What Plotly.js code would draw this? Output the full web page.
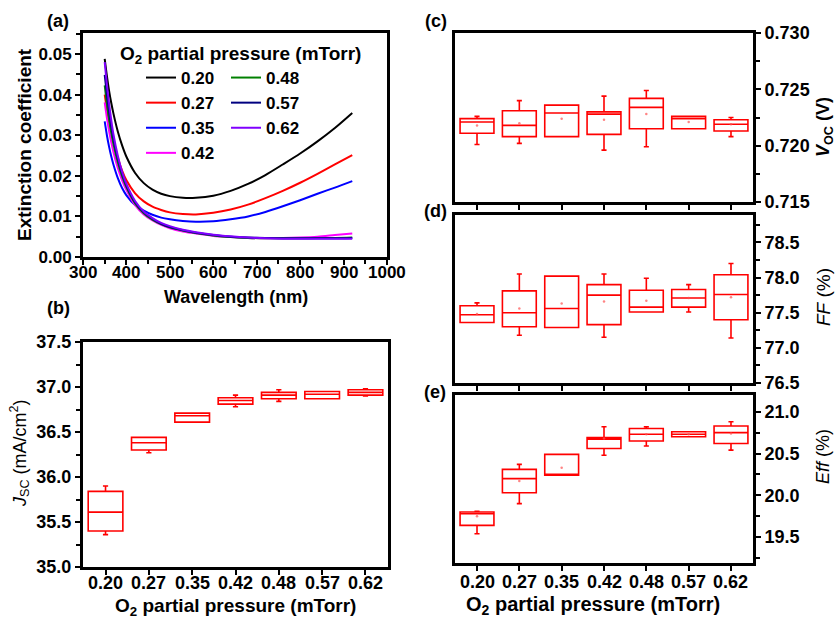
<!DOCTYPE html>
<html>
<head>
<meta charset="utf-8">
<script src="https://cdn.plot.ly/plotly-3.0.1.min.js"></script>
<style>html,body{margin:0;padding:0;background:#fff;}#chart{width:836px;height:619px;}</style>
</head>
<body>
<div id="chart"></div>
<script>
// ---------- Panel (a): extinction coefficient ----------
const wavelength = [350, 355, 360, 365, 370, 380, 390, 400, 420, 440, 460, 480, 500, 530, 560, 600, 640, 680, 720, 760, 800, 840, 880, 920];
const wlTicks = [300, 400, 500, 600, 700, 800, 900, 1000];
const k020 = [0.0488, 0.0446, 0.0410, 0.0380, 0.0354, 0.0310, 0.0275, 0.0247, 0.0207, 0.0182, 0.0166, 0.0156, 0.0150, 0.0146, 0.0146, 0.0151, 0.0163, 0.0180, 0.0202, 0.0228, 0.0255, 0.0285, 0.0318, 0.0355];
const k027 = [0.0400, 0.0365, 0.0335, 0.0308, 0.0285, 0.0245, 0.0213, 0.0189, 0.0157, 0.0137, 0.0124, 0.0116, 0.0110, 0.0106, 0.0105, 0.0109, 0.0117, 0.0129, 0.0145, 0.0163, 0.0183, 0.0205, 0.0228, 0.0251];
const k035 = [0.0334, 0.0300, 0.0272, 0.0248, 0.0228, 0.0195, 0.0170, 0.0152, 0.0128, 0.0114, 0.0104, 0.0097, 0.0093, 0.0089, 0.0087, 0.0088, 0.0093, 0.0100, 0.0111, 0.0125, 0.0140, 0.0156, 0.0171, 0.0187];
const k042 = [0.0381, 0.0343, 0.0311, 0.0283, 0.0259, 0.0220, 0.0189, 0.0165, 0.0128, 0.0105, 0.0090, 0.0079, 0.0071, 0.0063, 0.0058, 0.0052, 0.0049, 0.0047, 0.0046, 0.0047, 0.0048, 0.0050, 0.0054, 0.0058];
const k048 = [0.0423, 0.0378, 0.0340, 0.0307, 0.0279, 0.0234, 0.0199, 0.0172, 0.0132, 0.0108, 0.0092, 0.0081, 0.0073, 0.0065, 0.0059, 0.0053, 0.0049, 0.0047, 0.0046, 0.0046, 0.0046, 0.0047, 0.0047, 0.0048];
const k057 = [0.0449, 0.0400, 0.0358, 0.0322, 0.0291, 0.0242, 0.0205, 0.0176, 0.0135, 0.0110, 0.0094, 0.0082, 0.0074, 0.0066, 0.0060, 0.0054, 0.0050, 0.0048, 0.0047, 0.0046, 0.0046, 0.0046, 0.0046, 0.0047];
const k062 = [0.0480, 0.0425, 0.0378, 0.0338, 0.0303, 0.0250, 0.0210, 0.0180, 0.0138, 0.0112, 0.0096, 0.0084, 0.0076, 0.0067, 0.0061, 0.0055, 0.0051, 0.0048, 0.0046, 0.0045, 0.0045, 0.0045, 0.0045, 0.0045];

// ---------- Box panels ----------
const pressures = ['0.20', '0.27', '0.35', '0.42', '0.48', '0.57', '0.62'];

const jscQ1  = [35.40, 36.30, 36.61, 36.81, 36.87, 36.87, 36.91];
const jscMed = [35.61, 36.38, 36.68, 36.85, 36.91, 36.92, 36.94];
const jscQ3  = [35.84, 36.44, 36.71, 36.88, 36.94, 36.95, 36.97];
const jscLo  = [35.36, 36.27, 36.61, 36.78, 36.84, 36.87, 36.90];
const jscHi  = [35.90, 36.44, 36.71, 36.91, 36.97, 36.95, 36.98];

const vocQ1   = [0.7211, 0.7208, 0.7208, 0.7210, 0.7215, 0.7215, 0.7213];
const vocMed  = [0.7221, 0.7218, 0.7229, 0.7228, 0.7234, 0.7224, 0.7219];
const vocQ3   = [0.7224, 0.7231, 0.7236, 0.7230, 0.7242, 0.7226, 0.7223];
const vocLo   = [0.7201, 0.7202, 0.7208, 0.7196, 0.7199, 0.7215, 0.7208];
const vocHi   = [0.7226, 0.7240, 0.7236, 0.7244, 0.7249, 0.7226, 0.7225];
const vocMean = [0.7218, 0.7220, 0.7224, 0.7223, 0.7228, 0.7221, 0.7219];

const ffQ1   = [77.36, 77.30, 77.29, 77.33, 77.51, 77.58, 77.40];
const ffMed  = [77.47, 77.50, 77.56, 77.75, 77.58, 77.71, 77.76];
const ffQ3   = [77.60, 77.81, 78.02, 77.90, 77.82, 77.83, 78.04];
const ffLo   = [77.36, 77.18, 77.29, 77.15, 77.51, 77.51, 77.14];
const ffHi   = [77.64, 78.05, 78.02, 78.05, 77.99, 77.90, 78.20];
const ffMean = [77.48, 77.56, 77.63, 77.66, 77.67, 77.71, 77.72];

const effQ1   = [19.64, 20.03, 20.24, 20.56, 20.65, 20.70, 20.62];
const effMed  = [19.78, 20.20, 20.25, 20.67, 20.73, 20.73, 20.75];
const effQ3   = [19.80, 20.31, 20.49, 20.69, 20.80, 20.76, 20.83];
const effLo   = [19.54, 19.90, 20.24, 20.48, 20.59, 20.70, 20.54];
const effHi   = [19.81, 20.37, 20.49, 20.82, 20.82, 20.76, 20.88];
const effMean = [19.75, 20.17, 20.33, 20.68, 20.73, 20.73, 20.74];

// ---------- Build traces ----------
const W = 836, H = 619;
const px = v => v / W;
const py = v => 1 - v / H;

const lineSeries = [
  {name: '0.20', y: k020, color: '#000000', legend: 'legend'},
  {name: '0.27', y: k027, color: '#ff0000', legend: 'legend'},
  {name: '0.35', y: k035, color: '#0000ff', legend: 'legend'},
  {name: '0.42', y: k042, color: '#ff00ff', legend: 'legend'},
  {name: '0.48', y: k048, color: '#008000', legend: 'legend2'},
  {name: '0.57', y: k057, color: '#000080', legend: 'legend2'},
  {name: '0.62', y: k062, color: '#8000ff', legend: 'legend2'}
];

const traces = lineSeries.map((s, i) => ({
  type: 'scatter', mode: 'lines', x: wavelength, y: s.y, name: s.name,
  line: {color: s.color, width: 2, shape: 'spline', smoothing: 0.8},
  xaxis: 'x', yaxis: 'y', legend: s.legend, legendgroup: 'g' + i, legendrank: i
}));

function boxTrace(ax, q1, med, q3, lo, hi) {
  return {
    type: 'box', x: pressures, q1: q1, median: med, q3: q3, lowerfence: lo, upperfence: hi,
    xaxis: 'x' + ax, yaxis: 'y' + ax, showlegend: false, boxpoints: false,
    width: 0.8, whiskerwidth: 0.15,
    line: {color: '#ff0000', width: 1.6}, fillcolor: 'rgba(0,0,0,0)', hoverinfo: 'skip'
  };
}
function meanTrace(ax, mean) {
  return {
    type: 'scatter', mode: 'markers', x: pressures, y: mean, xaxis: 'x' + ax, yaxis: 'y' + ax,
    showlegend: false, marker: {color: 'rgba(255,80,80,0.7)', size: 2.5}, hoverinfo: 'skip'
  };
}
traces.push(boxTrace(2, jscQ1, jscMed, jscQ3, jscLo, jscHi));
traces.push(boxTrace(3, vocQ1, vocMed, vocQ3, vocLo, vocHi));
traces.push(meanTrace(3, vocMean));
traces.push(boxTrace(4, ffQ1, ffMed, ffQ3, ffLo, ffHi));
traces.push(meanTrace(4, ffMean));
traces.push(boxTrace(5, effQ1, effMed, effQ3, effLo, effHi));
traces.push(meanTrace(5, effMean));

// ---------- Layout ----------
const FAM = 'Liberation Sans, Arial, sans-serif';
const tf = s => ({family: FAM, size: s, color: '#000', weight: 'bold'});
const nf = s => ({family: FAM, size: s, color: '#000', weight: 'normal'});
function baseAxis(extra) {
  return Object.assign({
    showline: true, linewidth: 3, linecolor: '#000', mirror: true,
    showgrid: false, zeroline: false, ticks: 'outside', ticklen: 5, tickwidth: 2, tickcolor: '#000',
    tickfont: tf(18), fixedrange: true
  }, extra);
}
const minor = d => ({ticks: 'outside', ticklen: 4, tickwidth: 2, dtick: d, tick0: 0, tickcolor: '#000'});
const catAxis = extra => baseAxis(Object.assign({
  type: 'category', categoryorder: 'array', categoryarray: pressures, range: [-0.52, 6.52], showticklabels: false
}, extra));

const layout = {
  width: W, height: H, autosize: false,
  margin: {l: 0, r: 0, t: 0, b: 0},
  paper_bgcolor: '#fff', plot_bgcolor: '#fff',
  font: {family: FAM, size: 16, color: '#000', weight: 'bold'},
  showlegend: true,
  xaxis: baseAxis({domain: [px(83), px(387)], anchor: 'y', range: [300, 1000], dtick: 100, tick0: 0,
    showticklabels: false, minor: minor(50)}),
  yaxis: baseAxis({domain: [py(257), py(33)], anchor: 'x', range: [0, 0.0552], dtick: 0.01, tick0: 0, tickformat: '.2f',
    tickfont: tf(17), minor: minor(0.005)}),
  xaxis2: catAxis({domain: [px(83), px(388)], anchor: 'y2'}),
  yaxis2: baseAxis({domain: [py(567), py(342)], anchor: 'x2', range: [35, 37.5], dtick: 0.5, tick0: 0, tickformat: '.1f',
    minor: minor(0.25)}),
  xaxis3: catAxis({domain: [px(455), px(753)], anchor: 'y3'}),
  yaxis3: baseAxis({domain: [py(202), py(33)], anchor: 'x3', side: 'right', range: [0.715, 0.730], dtick: 0.005, tick0: 0, tickformat: '.3f',
    minor: minor(0.0025)}),
  xaxis4: catAxis({domain: [px(455), px(753)], anchor: 'y4'}),
  yaxis4: baseAxis({domain: [py(383), py(215)], anchor: 'x4', side: 'right', range: [76.5, 78.89], dtick: 0.5, tick0: 0, tickformat: '.1f',
    minor: minor(0.25)}),
  xaxis5: catAxis({domain: [px(455), px(753)], anchor: 'y5'}),
  yaxis5: baseAxis({domain: [py(563), py(395)], anchor: 'x5', side: 'right', range: [19.19, 21.2], dtick: 0.5, tick0: 0, tickformat: '.1f',
    minor: minor(0.25)}),
  legend: {x: px(141), y: py(60), xanchor: 'left', yanchor: 'top', bgcolor: 'rgba(0,0,0,0)', borderwidth: 0,
    font: tf(17), traceorder: 'grouped', tracegroupgap: 0, itemwidth: 30},
  legend2: {x: px(226), y: py(60), xanchor: 'left', yanchor: 'top', bgcolor: 'rgba(0,0,0,0)', borderwidth: 0,
    font: tf(17), traceorder: 'grouped', tracegroupgap: 0, itemwidth: 30},
  annotations: []
};

function ann(text, x, y, opts) {
  layout.annotations.push(Object.assign({
    text: text, x: px(x), y: py(y), xref: 'paper', yref: 'paper', showarrow: false,
    xanchor: 'center', yanchor: 'middle', font: tf(18)
  }, opts || {}));
}
ann('(a)', 58, 21);
ann('(b)', 59, 308);
ann('(c)', 436, 21);
ann('(d)', 435, 211);
ann('(e)', 435, 392);
ann('O<sub>2</sub> partial pressure (mTorr)', 118, 55, {xanchor: 'left', font: tf(19)});
ann('Extinction coefficient', 25, 145, {textangle: -90, font: tf(19)});
ann('Wavelength (nm)', 236, 297, {font: tf(18)});
ann('<i>J</i><sub>SC</sub> (mA/cm<sup>2</sup>)', 20, 453, {textangle: -90, font: nf(18)});
ann('O<sub>2</sub> partial pressure (mTorr)', 235, 607, {font: tf(19)});
ann('O<sub>2</sub> partial pressure (mTorr)', 593, 605, {font: tf(20)});
ann('<i>V</i><sub>OC</sub> (V)', 824, 127, {textangle: -90, font: tf(18)});
ann('<i>FF</i> (%)', 823, 297, {textangle: -90, font: nf(19)});
ann('<i>Eff</i> (%)', 823, 457, {textangle: -90, font: nf(18)});

// wavelength tick labels, placed at their data values on the wavelength axis
wlTicks.forEach(t => {
  layout.annotations.push({text: String(t), x: t, xref: 'x', y: py(272), yref: 'paper', showarrow: false,
    xanchor: 'center', yanchor: 'middle', font: tf(17)});
});
// category tick labels for the labelled box panels, placed at category index on the category axes
pressures.forEach((c, i) => {
  layout.annotations.push({text: c, x: i, xref: 'x2', y: py(583), yref: 'paper', showarrow: false,
    xanchor: 'center', yanchor: 'middle', font: tf(18)});
  layout.annotations.push({text: c, x: i, xref: 'x5', y: py(582), yref: 'paper', showarrow: false,
    xanchor: 'center', yanchor: 'middle', font: tf(18)});
});

Plotly.newPlot('chart', traces, layout, {staticPlot: true, displayModeBar: false});
</script>
</body>
</html>
